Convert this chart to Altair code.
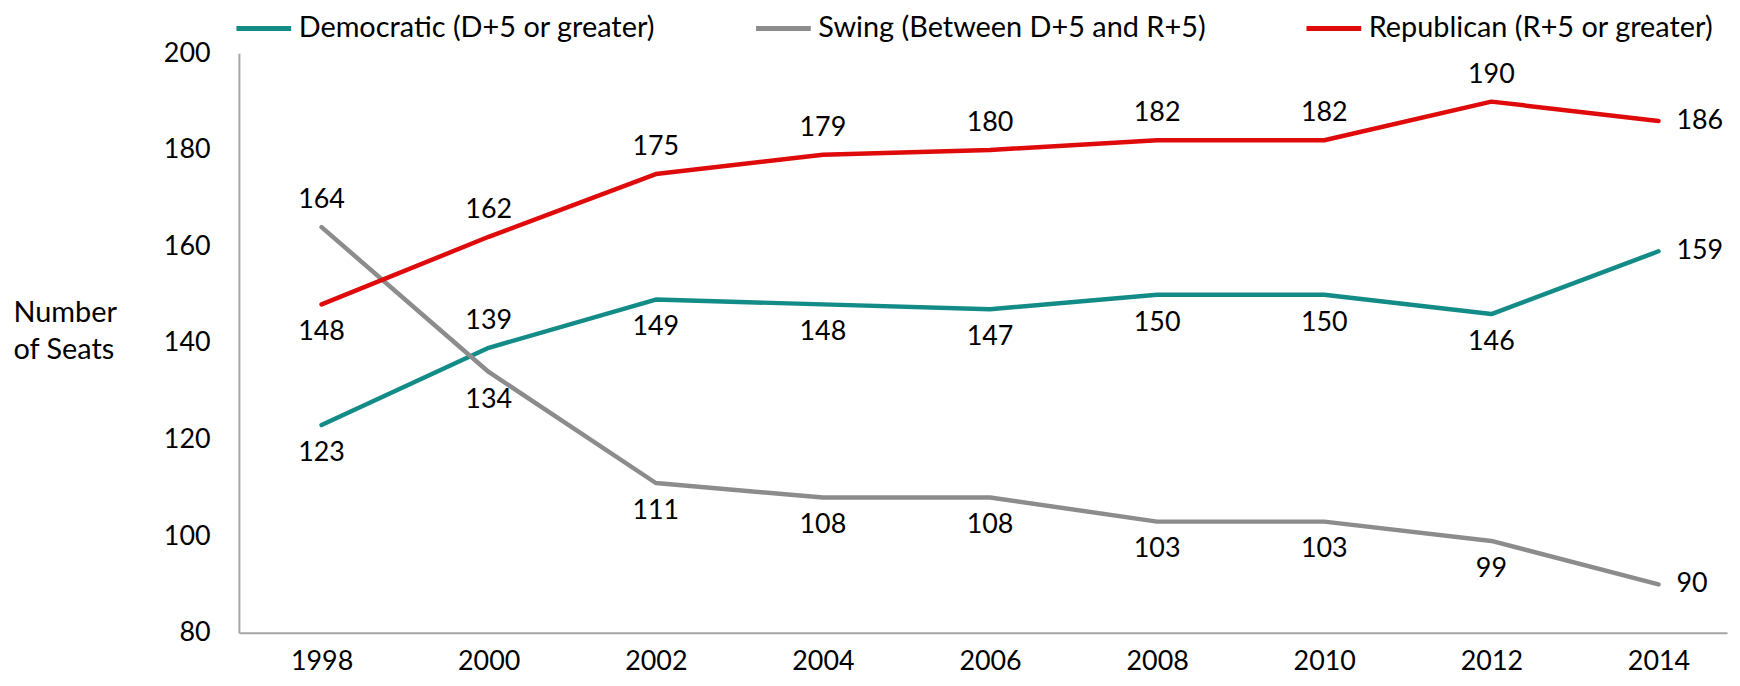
import altair as alt
import pandas as pd

years = [1998, 2000, 2002, 2004, 2006, 2008, 2010, 2012, 2014]
democratic = [123, 139, 149, 148, 147, 150, 150, 146, 159]
swing = [164, 134, 111, 108, 108, 103, 103, 99, 90]
republican = [148, 162, 175, 179, 180, 182, 182, 190, 186]

series_names = [
    "Democratic (D+5 or greater)",
    "Swing (Between D+5 and R+5)",
    "Republican (R+5 or greater)",
]
series_colors = ["#138C88", "#8C8C8C", "#DF0A0A"]

dem_label_pos = ["below", "above", "below", "below", "below", "below", "below", "below", "right"]
swing_label_pos = ["above", "below", "below", "below", "below", "below", "below", "below", "right"]
rep_label_pos = ["below", "above", "above", "above", "above", "above", "above", "above", "right"]

y_ticks = [80, 100, 120, 140, 160, 180, 200]

rows = []
for name, vals, poss in zip(series_names, [democratic, swing, republican],
                            [dem_label_pos, swing_label_pos, rep_label_pos]):
    for yr, v, p in zip(years, vals, poss):
        rows.append({"year": yr, "seats": v, "series": name, "pos": p})
df = pd.DataFrame(rows)

FONT = "Lato"
FS = 27

x = alt.X(
    "year:Q",
    scale=alt.Scale(domain=[1997.011, 2014.82], nice=False, zero=False),
    axis=alt.Axis(
        values=years, format="d", title=None, grid=False, ticks=False, tickSize=0,
        labelPadding=16, domainColor="#A6A6A6", domainWidth=2,
        labelFontSize=FS, labelFont=FONT, labelColor="black", labelFlush=False,
    ),
)
y = alt.Y(
    "seats:Q",
    scale=alt.Scale(domain=[80, 200], nice=False, zero=False),
    axis=alt.Axis(
        values=y_ticks, grid=False, ticks=False, tickSize=0, labelPadding=29,
        domainColor="#A6A6A6", domainWidth=2,
        labelFontSize=FS, labelFont=FONT, labelColor="black",
        title=["Number", "of Seats"], titleAngle=0, titleAlign="left",
        titleBaseline="middle", titleX=-227, titleY=260, titleLineHeight=38,
        titleFontSize=29, titleFont=FONT, titleFontWeight="normal", titleColor="black",
    ),
)
color = alt.Color(
    "series:N",
    scale=alt.Scale(domain=series_names, range=series_colors),
    legend=alt.Legend(
        title=None, orient="none", direction="horizontal", legendX=-5, legendY=-55,
        symbolType="stroke", symbolSize=3025, symbolStrokeWidth=5,
        labelFontSize=29, labelFont=FONT, labelColor="black", labelLimit=800,
        columnPadding=90, labelOffset=5, padding=0,
    ),
)

base = alt.Chart(df)
lines = base.mark_line(strokeWidth=4.5, strokeCap="round", strokeJoin="round").encode(
    x=x, y=y, color=color
)

def labels(pos, **kw):
    return base.transform_filter(alt.datum.pos == pos).mark_text(
        font=FONT, fontSize=FS, color="black", **kw
    ).encode(x=x, y=y, text="seats:Q")

chart = alt.layer(
    lines,
    labels("below", dy=28, baseline="middle"),
    labels("above", dy=-27, baseline="middle"),
    labels("right", dx=18, align="left", baseline="middle"),
).properties(
    width=1495, height=582,
    autosize=alt.AutoSizeParams(type="none"),
    padding={"left": 232, "top": 44, "right": 5, "bottom": 44},
).configure_view(stroke=None)

chart.save("out.html", embed_options={"renderer": "svg", "actions": False})
